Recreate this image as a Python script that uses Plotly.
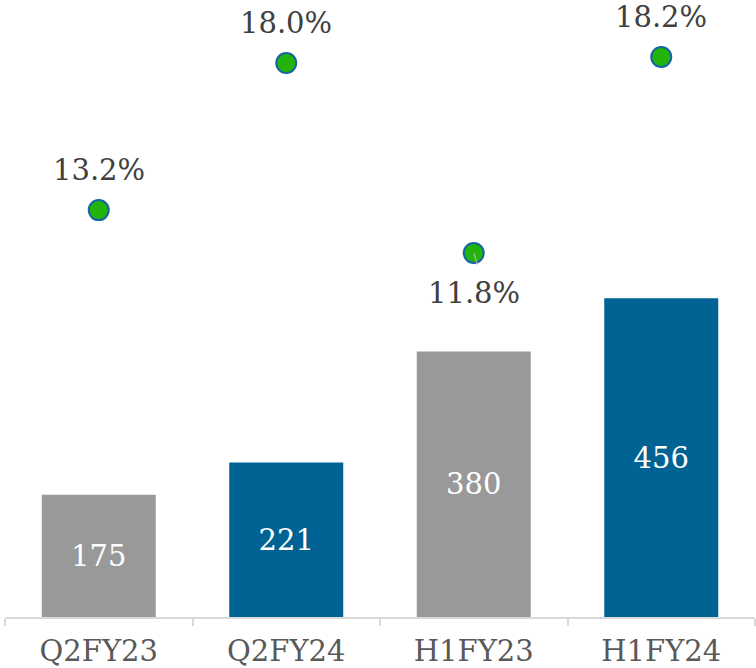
import plotly.graph_objects as go

categories = ["Q2FY23", "Q2FY24", "H1FY23", "H1FY24"]
bar_values = [175, 221, 380, 456]
margin_pct = [13.2, 18.0, 11.8, 18.2]
label_side = ["above", "above", "below", "above"]

bar_colors = ["#999999", "#006394", "#999999", "#006394"]
FONT = "DejaVu Serif"
FS = 29

fig = go.Figure()
fig.add_trace(go.Bar(
    x=categories, y=bar_values, marker=dict(color=bar_colors, line=dict(width=0)),
    text=[str(v) for v in bar_values], textposition="inside", insidetextanchor="middle",
    textangle=0, textfont=dict(family=FONT, size=FS, color="white"),
    hoverinfo="skip", showlegend=False,
))
fig.add_trace(go.Scatter(
    x=categories, y=margin_pct, yaxis="y2", mode="markers",
    marker=dict(size=20, color="#22b40a", line=dict(color="#1565a0", width=2)),
    showlegend=False, hoverinfo="skip",
))

for c, v, side in zip(categories, margin_pct, label_side):
    fig.add_annotation(
        x=c, y=v, xref="x", yref="y2", text=f"{v:.1f}%", showarrow=False,
        yshift=40 if side == "above" else -40,
        font=dict(family=FONT, size=FS, color="#404040"),
    )
    if side == "below":
        fig.add_annotation(
            x=c, y=v, xref="x", yref="y2", text="", showarrow=True,
            ax=4, ay=13, arrowhead=0, arrowwidth=1.2, arrowcolor="#b0b0b0", standoff=0,
        )

fig.update_layout(
    width=756, height=668,
    margin=dict(l=5, r=1, t=0, b=51),
    paper_bgcolor="white", plot_bgcolor="white",
    bargap=0.392,
    xaxis=dict(
        automargin=False,
        showline=True, linecolor="#d9d9d9", linewidth=2,
        ticks="outside", tickson="boundaries", ticklen=7, tickcolor="#d9d9d9", tickwidth=2,
        ticklabelstandoff=7,
        tickfont=dict(family=FONT, size=FS, color="#595959"),
        showgrid=False, zeroline=False,
    ),
    yaxis=dict(range=[0, 883], visible=False, showgrid=False, zeroline=False, automargin=False),
    yaxis2=dict(range=[-0.086, 20.06], overlaying="y", visible=False,
                showgrid=False, zeroline=False, automargin=False),
)

fig.write_html("out.html", config={"displayModeBar": False},
               post_script="document.body.style.margin='0';")
